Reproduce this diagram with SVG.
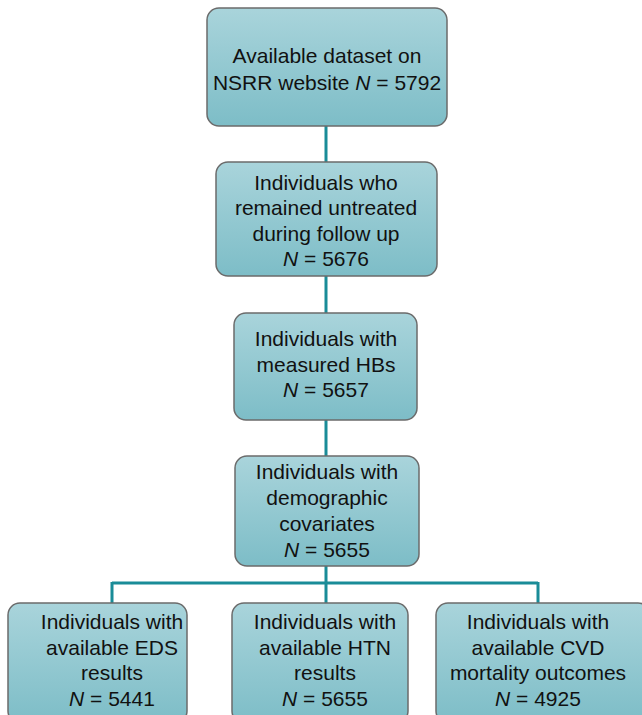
<svg xmlns="http://www.w3.org/2000/svg" width="642" height="715" viewBox="0 0 642 715">
<style>
.box{fill:url(#g);stroke:#6b6b6b;stroke-width:1.5}
.t{font-family:"Liberation Sans","Noto Sans",sans-serif;font-size:21px;fill:#111;text-anchor:middle}
.c{fill:none;stroke:#1a8c98;stroke-width:3}
</style>
<defs>
<linearGradient id="g" x1="0" y1="0" x2="0" y2="1">
<stop offset="0" stop-color="#a9d4db"/>
<stop offset="1" stop-color="#7dbdc7"/>
</linearGradient>
</defs>
<g id="connectors">
<path class="c" d="M326 126V162M326 276V313M326 420V456M326 566V583M112 583H538M112 582V603M326 583V603M538 582V603"/>
</g>
<g id="n1"><rect class="box" x="207" y="8" width="240" height="118" rx="12"/>
<text class="t" x="327" y="63">Available dataset on</text>
<text class="t" x="327" y="90">NSRR website <tspan font-style="italic">N</tspan> = 5792</text></g>
<g id="n2"><rect class="box" x="216" y="162" width="221" height="114" rx="12"/>
<text class="t" x="326" y="190">Individuals who</text>
<text class="t" x="326" y="215">remained untreated</text>
<text class="t" x="326" y="241">during follow up</text>
<text class="t" x="326" y="266"><tspan font-style="italic">N</tspan> = 5676</text></g>
<g id="n3"><rect class="box" x="234" y="313" width="183" height="107" rx="12"/>
<text class="t" x="326" y="346">Individuals with</text>
<text class="t" x="326" y="372">measured HBs</text>
<text class="t" x="326" y="397"><tspan font-style="italic">N</tspan> = 5657</text></g>
<g id="n4"><rect class="box" x="235" y="456" width="184" height="110" rx="12"/>
<text class="t" x="327" y="479">Individuals with</text>
<text class="t" x="327" y="505">demographic</text>
<text class="t" x="327" y="531">covariates</text>
<text class="t" x="327" y="557"><tspan font-style="italic">N</tspan> = 5655</text></g>
<g id="n5"><rect class="box" x="8" y="603" width="179" height="120" rx="12"/>
<text class="t" x="112" y="629">Individuals with</text>
<text class="t" x="112" y="655">available EDS</text>
<text class="t" x="112" y="680">results</text>
<text class="t" x="112" y="706"><tspan font-style="italic">N</tspan> = 5441</text></g>
<g id="n6"><rect class="box" x="232" y="603" width="176" height="120" rx="12"/>
<text class="t" x="325" y="629">Individuals with</text>
<text class="t" x="325" y="655">available HTN</text>
<text class="t" x="325" y="680">results</text>
<text class="t" x="325" y="706"><tspan font-style="italic">N</tspan> = 5655</text></g>
<g id="n7"><rect class="box" x="436" y="603" width="214" height="120" rx="12"/>
<text class="t" x="538" y="629">Individuals with</text>
<text class="t" x="538" y="655">available CVD</text>
<text class="t" x="538" y="680">mortality outcomes</text>
<text class="t" x="538" y="706"><tspan font-style="italic">N</tspan> = 4925</text></g>
</svg>
